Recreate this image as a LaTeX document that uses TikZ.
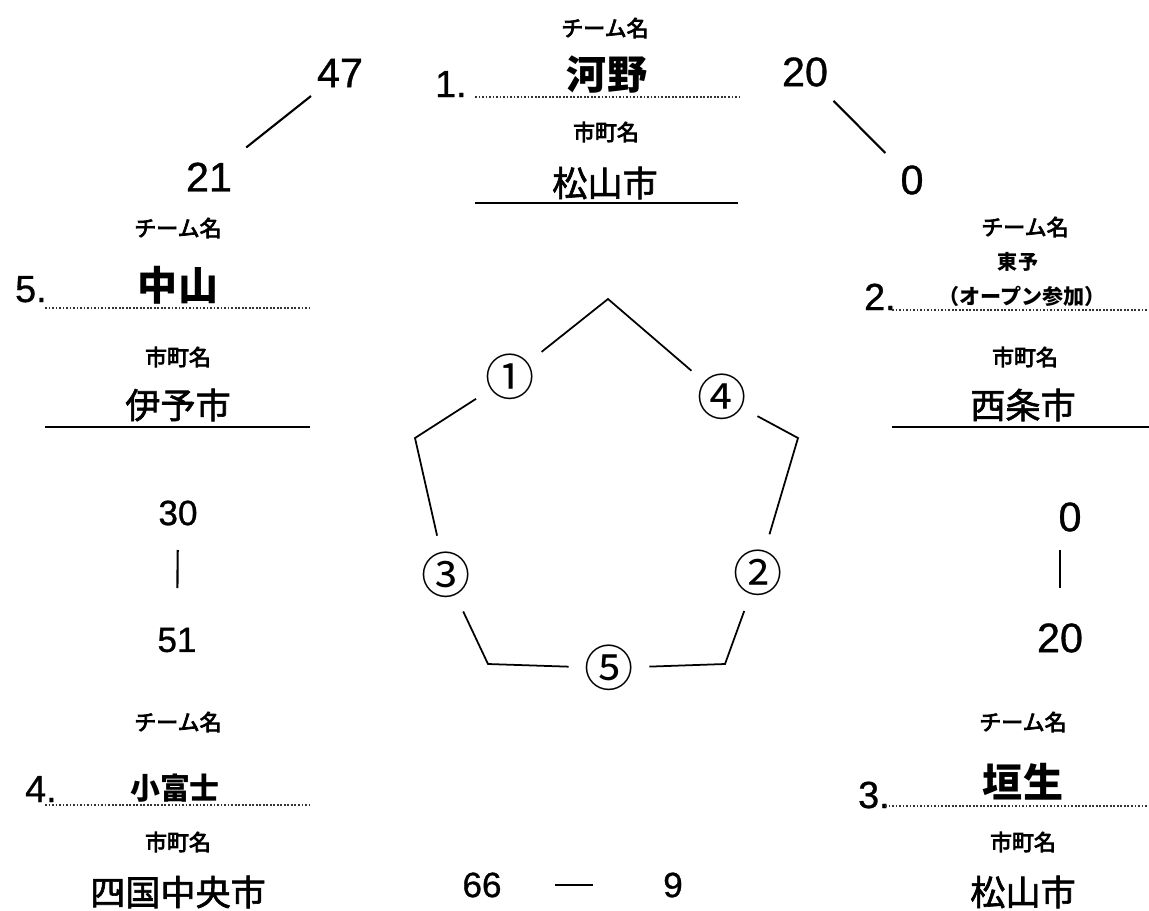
\documentclass[tikz,border=0pt]{standalone}
\usepackage{fontspec}
\setmainfont{Noto Sans CJK JP}
\newfontfamily\jpmid{Noto Sans CJK JP}[FakeBold=1.8]
\newfontfamily\jplbl{Noto Sans CJK JP}[FakeBold=3.5]
\newfontfamily\numfont{Liberation Sans}[FakeBold=0.8]

\tikzset{
  fieldlbl/.style={font=\jplbl\fontsize{12.5}{14}\selectfont},
  teamname/.style={font=\bfseries\fontsize{22.8}{26}\selectfont},
  cityname/.style={font=\jpmid\fontsize{20}{24}\selectfont},
  bignum/.style={font=\numfont\fontsize{23.5}{26}\selectfont, inner sep=1pt},
  smallnum/.style={font=\numfont\fontsize{20}{22}\selectfont, inner sep=1pt},
  seed/.style={font=\numfont\fontsize{21.5}{24}\selectfont, anchor=base east, inner sep=0pt},
  matchno/.style={font=\fontsize{28}{30}\selectfont, circle, minimum size=1.6cm, inner sep=0pt},
  dotrule/.style={line width=1.1pt, dash pattern=on 1pt off 1pt, black!80},
  solidrule/.style={line width=1.2pt},
  tally/.style={line width=1.2pt},
  edge/.style={line width=1pt}
}

\begin{document}
\begin{tikzpicture}[x=0.02cm,y=-0.02cm]
\useasboundingbox (0,0) rectangle (1149,910);

% team 1 (top)
\node[fieldlbl] (t1team) at (605,28) {チーム名};
\node[teamname] (t1name) at (607,75) {河野};
\node[seed] (t1no) at (467,97) {1.};
\coordinate (t1a) at (475,97);
\coordinate (t1b) at (740,97);
\node[fieldlbl] (t1city) at (606,132) {市町名};
\node[cityname] (t1town) at (605,183) {松山市};
\coordinate (t1c) at (475,203);
\coordinate (t1d) at (738,203);
\draw[dotrule] (t1a) -- (t1b);
\draw[solidrule] (t1c) -- (t1d);

% team 5 (left)
\node[fieldlbl] (t5team) at (178,228) {チーム名};
\node[teamname] (t5name) at (178,285) {中山};
\node[seed] (t5no) at (47,302) {5.};
\coordinate (t5a) at (45,308);
\coordinate (t5b) at (310,308);
\node[fieldlbl] (t5city) at (178,357) {市町名};
\node[cityname] (t5town) at (178,405) {伊予市};
\coordinate (t5c) at (45,427);
\coordinate (t5d) at (310,427);
\draw[dotrule] (t5a) -- (t5b);
\draw[solidrule] (t5c) -- (t5d);

% team 2 (right)
\node[fieldlbl] (t2team) at (1025,227) {チーム名};
\node[font=\bfseries\fontsize{11.4}{13}\selectfont] (t2name) at (1018,262) {東予};
\node[font=\bfseries\fontsize{12}{14}\selectfont] (t2note) at (1022,296) {（オープン参加）};
\node[seed] (t2no) at (896,310) {2.};
\coordinate (t2a) at (892,310);
\coordinate (t2b) at (1149,310);
\node[fieldlbl] (t2city) at (1025,357) {市町名};
\node[cityname] (t2town) at (1023,405) {西条市};
\coordinate (t2c) at (892,427);
\coordinate (t2d) at (1149,427);
\draw[dotrule] (t2a) -- (t2b);
\draw[solidrule] (t2c) -- (t2d);

% team 4 (bottom left)
\node[fieldlbl] (t4team) at (178,722) {チーム名};
\node[font=\bfseries\fontsize{17}{20}\selectfont] (t4name) at (175,788) {小富士};
\node[seed] (t4no) at (57,802) {4.};
\coordinate (t4a) at (45,805);
\coordinate (t4b) at (310,805);
\node[fieldlbl] (t4city) at (178,842) {市町名};
\node[cityname] (t4town) at (178,892) {四国中央市};
\draw[dotrule] (t4a) -- (t4b);

% team 3 (bottom right)
\node[fieldlbl] (t3team) at (1023,722) {チーム名};
\node[teamname] (t3name) at (1023,782) {垣生};
\node[seed] (t3no) at (890,808) {3.};
\coordinate (t3a) at (885,806);
\coordinate (t3b) at (1149,806);
\node[fieldlbl] (t3city) at (1023,842) {市町名};
\node[cityname] (t3town) at (1023,892) {松山市};
\draw[dotrule] (t3a) -- (t3b);

% scores
\node[bignum] (s47) at (340,73) {47};
\node[bignum] (s21) at (209,177) {21};
\node[bignum] (s20a) at (805,72) {20};
\node[bignum] (s0a) at (912,180) {0};
\node[smallnum] (s30) at (178,513) {30};
\node[smallnum] (s51) at (177,640) {51};
\node[bignum] (s0b) at (1070,517) {0};
\node[bignum] (s20b) at (1060,638) {20};
\node[smallnum] (s66) at (482,885) {66};
\node[smallnum] (s9) at (673,885) {9};
\draw[tally, shorten <=0.74cm, shorten >=0.95cm] (s47.center) -- (s21.center);
\draw[tally, shorten <=0.81cm, shorten >=0.76cm] (s20a.center) -- (s0a.center);
\draw[tally, shorten <=0.74cm, shorten >=1.04cm] (s30.center) -- (s51.center);
\draw[tally, shorten <=0.66cm, shorten >=1.00cm] (s20b |- s0b.center) -- (s20b.center);
\draw[tally, line width=1.6pt, shorten <=1.46cm, shorten >=1.6cm] (s66.center) -- (s9.center);

% match order pentagon
\coordinate (pt) at (608,299);
\coordinate (pr) at (798,438);
\coordinate (pbr) at (725,664);
\coordinate (pbl) at (488,664);
\coordinate (pl) at (415,438);
\node[matchno] (m1) at (510,377) {①};
\node[matchno] (m4) at (722,397) {④};
\node[matchno] (m2) at (758,573) {②};
\node[matchno] (m5) at (609,668) {⑤};
\node[matchno] (m3) at (446,575) {③};
\draw[edge] (m1) -- (pt) -- (m4);
\draw[edge] (m4) -- (pr) -- (m2);
\draw[edge] (m2) -- (pbr) -- (m5);
\draw[edge] (m5) -- (pbl) -- (m3);
\draw[edge] (m3) -- (pl) -- (m1);
\end{tikzpicture}
\end{document}
